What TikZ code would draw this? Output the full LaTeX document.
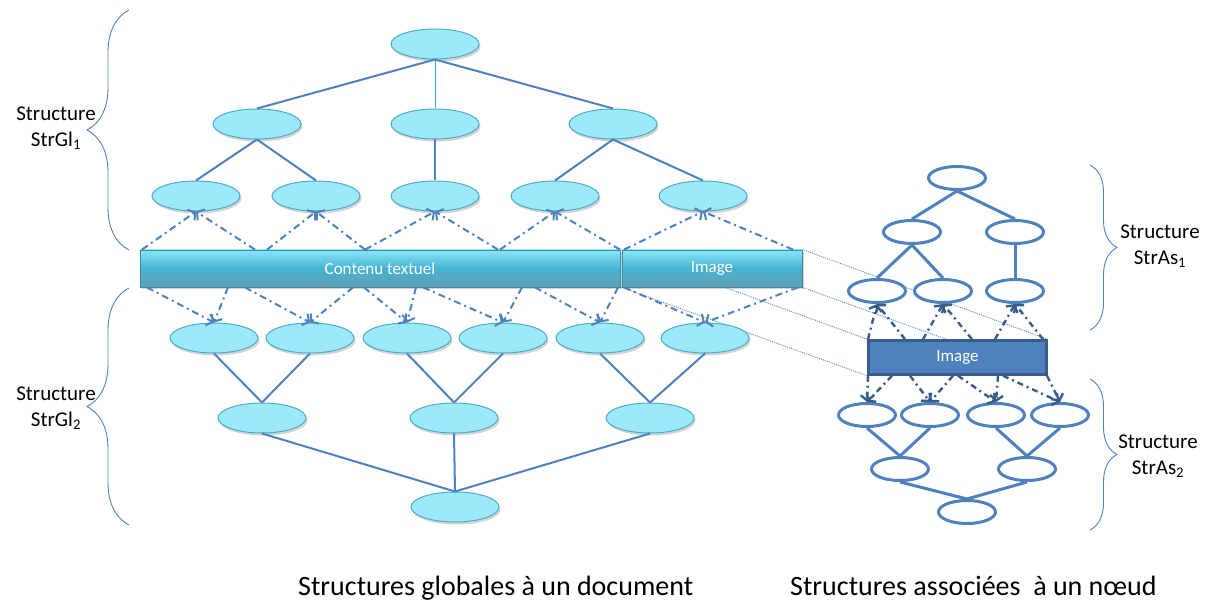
\documentclass[tikz,border=0pt]{standalone}
\usepackage{fontspec}
\setmainfont{Carlito}
\usepackage{tikz}
\usetikzlibrary{arrows.meta,shapes.geometric,shadows,decorations.pathreplacing,backgrounds}
\definecolor{sgLine}{HTML}{4F81BD}
\definecolor{sgDark}{HTML}{385D8A}
\definecolor{sgFill}{HTML}{9CE9FB}
\definecolor{sgEdge}{HTML}{4BACC6}
\definecolor{sgBarTop}{HTML}{8AE6F8}
\definecolor{sgBarMid}{HTML}{45B3D1}
\definecolor{sgBarBot}{HTML}{62A0B4}
\definecolor{sgBarEdge}{HTML}{3B8CA2}

\tikzset{
  gnode/.style={ellipse, draw=sgEdge, fill=sgFill, line width=1pt, minimum width=88pt, minimum height=30pt, inner sep=0pt,
    drop shadow={shadow xshift=1.5pt, shadow yshift=-2.5pt, opacity=0.35}},
  anode/.style={ellipse, draw=sgLine, fill=white, line width=3pt, minimum width=57pt, minimum height=23pt, inner sep=0pt},
  barseg/.style={rectangle, draw=sgBarEdge, line width=0.8pt, top color=sgBarTop, bottom color=sgBarBot, middle color=sgBarMid,
    minimum height=37pt, inner sep=0pt, text=white, font=\fontsize{17}{20}\selectfont,
    drop shadow={shadow xshift=1.5pt, shadow yshift=-2.5pt, opacity=0.35}},
  imgbox/.style={rectangle, draw=sgDark, fill=sgLine, line width=2.5pt, minimum width=178pt, minimum height=34pt, inner sep=0pt,
    text=white, font=\fontsize{17}{20}\selectfont},
  gedge/.style={draw=sgLine, line width=2pt},
  aedge/.style={draw=sgLine, line width=3pt},
  dd/.style={draw=sgLine, line width=2pt, dash pattern=on 7pt off 4pt on 2pt off 4pt},
  add/.style={draw=sgDark, line width=2.4pt, dash pattern=on 6pt off 4pt on 2pt off 4pt},
  arr/.style={-{Straight Barb[length=5pt,width=13pt]}},
  proj/.style={draw=sgLine, line width=0.8pt, dash pattern=on 1pt off 1pt},
  brc/.style={draw=sgLine, line width=0.9pt, decorate, decoration={brace, amplitude=#1}},
  lbl/.style={font=\fontsize{21}{26}\selectfont, align=center},
  captxt/.style={font=\fontsize{28}{34}\selectfont, anchor=base west, inner sep=0pt}
}

\begin{document}
\begin{tikzpicture}[x=1pt,y=-1pt]
  \useasboundingbox (0,0) rectangle (1217,601);

  \node[gnode] (g1) at (435,44) {};
  \foreach \n/\x in {21/257,22/435,23/613}
    \node[gnode] (g\n) at (\x,124) {};
  \foreach \n/\x in {31/196,32/316,33/435,34/555,35/703}
    \node[gnode] (g\n) at (\x,196) {};
  \node[barseg, minimum width=480pt] (txt) at (380,268.5) {Contenu textuel};
  \node[barseg, minimum width=180pt] (img) at (712,268.5) {Image};
  \foreach \n/\x in {41/214,42/310,43/407,44/503,45/600,46/705}
    \node[gnode] (g\n) at (\x,338) {};
  \foreach \n/\x in {51/262,52/454,53/650}
    \node[gnode] (g\n) at (\x,418) {};
  \node[gnode] (g6) at (455,507) {};

  \draw[gedge] (g1.south) -- (g21.north);
  \draw[draw=sgEdge, line width=1pt] (g1.south) -- (g22.north);
  \draw[gedge] (g1.south) -- (g23.north);
  \foreach \a/\b in {21/31,21/32,22/33,23/34,23/35,41/51,42/51,43/52,44/52,45/53,46/53,51/6,52/6,53/6}
    \draw[gedge] (g\a.south) -- (g\b.north);

  \foreach \n/\xa/\xb in {31/142/255,32/267/365,33/365/498,34/500/620,35/624/793} {
    \draw[dd,arr] (\xa,0 |- txt.north) -- (g\n.south);
    \draw[dd,arr] (\xb,0 |- txt.north) -- (g\n.south);
  }
  \foreach \n/\xa/\xb in {41/147/228,42/245/353,43/364/416,44/423/522,45/535/618,46/624/798} {
    \draw[dd,arr] (\xa,0 |- txt.south) -- (g\n.north);
    \draw[dd,arr] (\xb,0 |- txt.south) -- (g\n.north);
  }

  \node[anode] (a1) at (957,178) {};
  \node[anode] (a21) at (912,232) {};
  \node[anode] (a22) at (1015,232) {};
  \foreach \n/\x in {31/877,32/943,33/1015}
    \node[anode] (a\n) at (\x,291) {};
  \node[imgbox] (box) at (957.5,357.5) {Image};
  \foreach \n/\x in {41/867,42/930,43/996,44/1060}
    \node[anode] (a\n) at (\x,415) {};
  \node[anode] (a51) at (900,469) {};
  \node[anode] (a52) at (1027,469) {};
  \node[anode] (a6) at (967,512) {};

  \foreach \a/\b in {1/21,1/22,21/31,21/32,22/33,41/51,42/51,43/52,44/52,51/6,52/6}
    \draw[aedge] (a\a.south) -- (a\b.north);
  \foreach \n/\xa/\xb in {31/868/905,32/923/972,33/995/1043} {
    \draw[add,arr] (\xa,0 |- box.north) -- (a\n.south);
    \draw[add,arr] (\xb,0 |- box.north) -- (a\n.south);
  }
  \foreach \n/\xa/\xb in {41/868/892,42/910/953,43/958/998,44/1003/1047} {
    \draw[add,arr] (\xa,0 |- box.south) -- (a\n.north);
    \draw[add,arr] (\xb,0 |- box.south) -- (a\n.north);
  }

  \begin{scope}[on background layer]
    \draw[proj] (img.north west) -- (box.north west);
    \draw[proj] (img.north east) -- (box.north east);
    \draw[proj] (img.south west) -- (box.south west);
    \draw[proj] (img.south east) -- (box.south east);
  \end{scope}

  \draw[brc=42pt] (129,250) -- (129,10);
  \draw[brc=42pt] (129,525) -- (129,288);
  \draw[brc=27pt] (1090,165) -- (1090,330);
  \draw[brc=27pt] (1090,379) -- (1090,530);

  \node[lbl] (l1) at (56,128) {Structure\\StrGl\textsubscript{1}};
  \node[lbl] (l2) at (56,408) {Structure\\StrGl\textsubscript{2}};
  \node[lbl] (l3) at (1160,246) {Structure\\StrAs\textsubscript{1}};
  \node[lbl] (l4) at (1158,456) {Structure\\StrAs\textsubscript{2}};

  \node[captxt] (c1) at (298,595) {Structures globales à un document};
  \node[captxt] (c2) at (790,595) {Structures associées~ à un nœud};
\end{tikzpicture}
\end{document}
